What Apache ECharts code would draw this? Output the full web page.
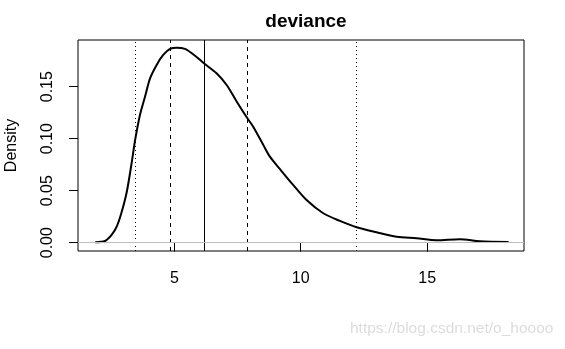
<!DOCTYPE html>
<html>
<head>
<meta charset="utf-8">
<script src="https://cdn.jsdelivr.net/npm/echarts@6/dist/echarts.min.js"></script>
<style>html,body{margin:0;padding:0;background:#fff;}#c{width:565px;height:349px;}</style>
</head>
<body>
<div id="c"></div>
<script>
var chartTitle = 'deviance';
var yAxisName = 'Density';
var xValues = [1.87, 2.26, 2.52, 2.72, 2.92, 3.12, 3.32, 3.45, 3.64, 3.84, 4.04, 4.30, 4.56, 4.83, 5.09, 5.42, 5.82, 6.17, 6.67, 7.07, 7.47, 7.89, 8.12, 8.52, 8.78, 9.18, 9.70, 10.23, 10.89, 11.55, 12.21, 13.0, 13.79, 14.58, 15.37, 16.29, 17.08, 18.22];
var densityValues = [0.0004, 0.0016, 0.0074, 0.0154, 0.0298, 0.049, 0.078, 0.0988, 0.1228, 0.1404, 0.158, 0.1709, 0.1805, 0.1863, 0.1875, 0.1863, 0.1798, 0.1725, 0.1629, 0.1516, 0.1356, 0.1196, 0.1115, 0.0939, 0.0827, 0.0707, 0.0555, 0.041, 0.0283, 0.0209, 0.0148, 0.010, 0.0058, 0.0042, 0.0023, 0.0033, 0.0013, 0.0007];
var xTicks = [5, 10, 15];
var yTicks = [0, 0.05, 0.10, 0.15];
var yTickLabels = ['0.00', '0.05', '0.10', '0.15'];
var quantileX = [3.47, 4.84, 6.19, 7.89, 12.19];
var quantileStyle = ['dotted', 'dashed', 'solid', 'dashed', 'dotted'];
var watermark = 'https://blog.csdn.net/o_hoooo';

var pts = xValues.map(function (x, i) { return [x, densityValues[i]]; });
var dashMap = { dotted: [1, 3], dashed: [4, 4], solid: 'solid' };
var font = 'Liberation Sans, Arial, sans-serif';

var markData = quantileX.map(function (q, i) {
  return { xAxis: q, lineStyle: { type: dashMap[quantileStyle[i]], color: '#000', width: 1 } };
});
markData.push({ yAxis: 0, lineStyle: { type: 'solid', color: '#bebebe', width: 1 } });

var chart = echarts.init(document.getElementById('c'), null, { renderer: 'canvas' });
chart.setOption({
  animation: false,
  backgroundColor: '#fff',
  title: {
    text: chartTitle,
    left: 301, top: 7, textAlign: 'center',
    textStyle: { fontFamily: font, fontSize: 19, fontWeight: 'bold', color: '#000' }
  },
  grid: { left: 78, right: 41, top: 40, bottom: 98, outerBoundsMode: 'none', containLabel: false, show: true, borderColor: '#000', borderWidth: 1, backgroundColor: 'transparent' },
  xAxis: {
    type: 'value', min: 1.19, max: 18.83,
    axisLine: { show: false },
    splitLine: { show: false },
    axisTick: { show: true, inside: false, length: 9, customValues: xTicks, lineStyle: { color: '#000' } },
    axisLabel: { customValues: xTicks, margin: 20, fontFamily: font, fontSize: 16, color: '#000' }
  },
  yAxis: {
    type: 'value', min: -0.008, max: 0.1949,
    name: yAxisName, nameLocation: 'middle', nameRotate: 90, nameGap: 58,
    nameTextStyle: { fontFamily: font, fontSize: 16, color: '#000' },
    axisLine: { show: false },
    splitLine: { show: false },
    axisTick: { show: true, inside: false, length: 9, customValues: yTicks, lineStyle: { color: '#000' } },
    axisLabel: {
      customValues: yTicks, rotate: 90, margin: 22, fontFamily: font, fontSize: 16, color: '#000',
      formatter: function (v) { var i = yTicks.indexOf(v); return i >= 0 ? yTickLabels[i] : ''; }
    }
  },
  series: [{
    type: 'line', data: pts, smooth: 0.3, showSymbol: false, symbol: 'none',
    lineStyle: { color: '#000', width: 2 },
    markLine: { silent: true, symbol: ['none', 'none'], label: { show: false }, data: markData, animation: false }
  }],
  graphic: [{
    type: 'text', left: 350, top: 321,
    style: { text: watermark, fontFamily: font, fontSize: 15.5, fill: '#dcdcdc' }
  }]
});
</script>
</body>
</html>
